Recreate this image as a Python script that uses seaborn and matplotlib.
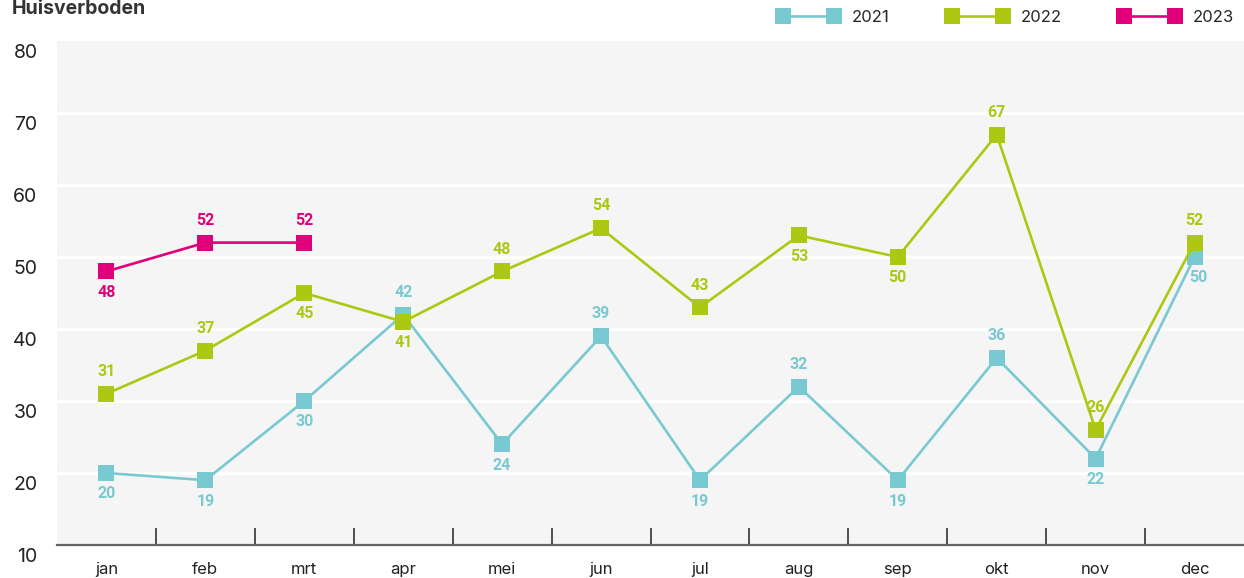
import matplotlib
matplotlib.use("Agg")
import matplotlib.pyplot as plt
import matplotlib.transforms as mtrans
from matplotlib.lines import Line2D
import seaborn as sns
import pandas as pd

months = ["jan", "feb", "mrt", "apr", "mei", "jun", "jul", "aug", "sep", "okt", "nov", "dec"]
v2021 = [20, 19, 30, 42, 24, 39, 19, 32, 19, 36, 22, 50]
v2022 = [31, 37, 45, 41, 48, 54, 43, 53, 50, 67, 26, 52]
v2023 = [48, 52, 52]
# label placement: +1 above, -1 below
pos2021 = [-1, -1, -1, 1, -1, 1, -1, 1, -1, 1, -1, -1]
pos2022 = [1, 1, -1, -1, 1, 1, 1, -1, -1, 1, 1, 1]
pos2023 = [-1, 1, 1]
years = ["2021", "2022", "2023"]
colors = {"2021": "#79c9d3", "2022": "#acc813", "2023": "#e2007a"}
yticks = [10, 20, 30, 40, 50, 60, 70, 80]

sns.set_theme(style="white")
plt.rcParams['font.family'] = ['Inter', 'DejaVu Sans']

W, H = 1244, 578
fig = plt.figure(figsize=(W / 100, H / 100), dpi=100)
ax = fig.add_axes([57 / W, (H - 545) / H, (W - 57) / W, (545 - 41) / H])
ax.set_facecolor("#f5f5f5")

series = {"2021": (v2021, pos2021), "2022": (v2022, pos2022), "2023": (v2023, pos2023)}
for yr in years:
    vals, pos = series[yr]
    df = pd.DataFrame({"x": list(range(len(vals))), "y": vals})
    sns.lineplot(data=df, x="x", y="y", ax=ax, color=colors[yr], linewidth=1.9,
                 marker="s", markersize=12, markeredgewidth=0, zorder=3)
    for i, (v, p) in enumerate(zip(vals, pos)):
        dy = 16 if p > 0 else -15
        dx = 3 if (yr == "2021" and i == 11) else 0
        ax.annotate(str(v), (i, v), xytext=(dx, dy), textcoords="offset points",
                    ha="center", va="center", fontsize=11.5, fontweight="bold",
                    color=colors[yr], zorder=4, family=["Roboto", "DejaVu Sans"])

ax.set_xlim(-0.5, 11.5)
ax.set_ylim(10, 80)
ax.set_yticks(yticks)
ax.set_yticklabels([str(t) for t in yticks], fontsize=14, color="#222222")
ax.tick_params(axis="y", length=0, pad=14)
for lab in ax.get_yticklabels():
    lab.set_transform(lab.get_transform() + mtrans.ScaledTranslation(0, -10 / 100, fig.dpi_scale_trans))
for t in [20, 30, 40, 50, 60, 70]:
    ax.axhline(t, color="white", linewidth=2.5, zorder=1)

ax.set_xticks(range(12))
ax.set_xticklabels(months, fontsize=12, color="#222222")
ax.set_xticks([i + 0.5 for i in range(11)], minor=True)
ax.tick_params(axis="x", which="major", length=0, pad=12)
ax.tick_params(axis="x", which="minor", direction="in", length=12, width=1.2, color="#333333", bottom=True)
ax.set_xlabel("")
ax.set_ylabel("")
ax.grid(False)
for s in ["left", "right", "top"]:
    ax.spines[s].set_visible(False)
ax.spines["bottom"].set_color("#666666")
ax.spines["bottom"].set_linewidth(1.6)

fig.text(12 / W, 1 - 14 / H, "Huisverboden", fontsize=14, fontweight="bold", color="#333333",
         ha="left", va="baseline")

handles = [Line2D([0], [0], color=colors[y], linewidth=1.9, marker="s", markersize=12,
                  markeredgewidth=0) for y in years]
fig.legend(handles, years, loc="upper right", bbox_to_anchor=(1.0, 1.0), ncol=3, frameon=False,
           numpoints=2, handlelength=3.7, columnspacing=3.4, handletextpad=0.75, fontsize=12,
           borderaxespad=0.3, borderpad=0.3)

fig.savefig("out.png", dpi=100)
